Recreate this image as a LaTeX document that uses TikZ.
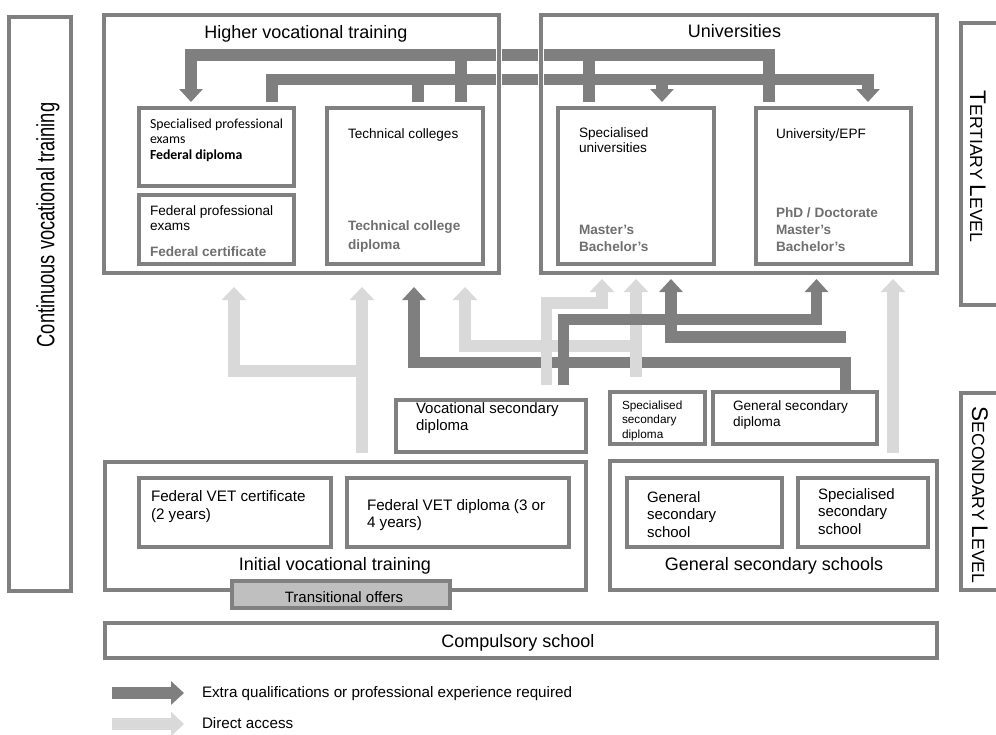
\documentclass[tikz,border=0pt]{standalone}
\usepackage{fontspec}
\setmainfont{Liberation Sans}
\newfontfamily\calfont{Carlito}
\newfontfamily\narrowfont[FakeStretch=0.73]{Liberation Sans}
\usetikzlibrary{arrows.meta, positioning, calc, fit, backgrounds}
\definecolor{cBOX}{HTML}{808080}
\definecolor{cDARK}{HTML}{7F7F7F}
\definecolor{cLIGHT}{HTML}{D9D9D9}
\definecolor{cBOLD}{HTML}{6F6F6F}
\definecolor{cFILL}{HTML}{BFBFBF}
\newcommand\lvlbig{\fontsize{11.3}{13}\selectfont}
\newcommand\lvlsmall{\fontsize{8.8}{10}\selectfont}
\tikzset{
  box/.style={draw=cBOX, line width=1.6pt, inner sep=0pt, outer sep=0pt},
  outerbox/.style={box, preaction={draw=white, line width=3.2pt}},
  txt/.style={inner sep=0pt, outer sep=0pt, anchor=base west, align=left},
  ttl/.style={txt, anchor=base, font=\fontsize{9}{11}\selectfont},
  small/.style={font=\fontsize{6.8}{7.5}\selectfont},
  boldgray/.style={text=cBOLD, font=\bfseries\fontsize{6.8}{8.3}\selectfont},
  mid/.style={font=\fontsize{7.5}{8.75}\selectfont},
  darkline/.style={draw=cDARK, line width=5.8pt},
  lightline/.style={draw=cLIGHT, line width=5.6pt},
  darkarrow/.style={darkline, -{Triangle[width=11.5pt,length=6.5pt]}},
  lightarrow/.style={lightline, -{Triangle[width=12pt,length=6.5pt]}}
}
\begin{document}
\begin{tikzpicture}[x=0.5pt, y=-0.5pt]
  \useasboundingbox (0,0) rectangle (996,734);

  % Side boxes (multi-line labels sit on their last baseline)
  \node[box, fit={(9,17) (71,591)}] (cvt) {};
  \node[txt, anchor=center, rotate=90, font=\narrowfont\fontsize{12.5}{15}\selectfont] (cvtl) at ([shift={(8,-79)}]cvt.center) {Continuous vocational training};
  \node[box, fit={(961,23) (1010,305)}] (ter) {};
  \node[txt, anchor=center, rotate=-90] (terl) at ([shift={(17,143.5)}]ter.north west) {\lvlbig T\lvlsmall ERTIARY \lvlbig L\lvlsmall EVEL};
  \node[box, fit={(961,393) (1010,590)}] (sec) {};
  \node[txt, anchor=center, rotate=-90] (secl) at ([shift={(19,102)}]sec.north west) {\lvlbig S\lvlsmall ECONDARY \lvlbig L\lvlsmall EVEL};

  % Higher vocational training
  \node[outerbox, fit={(104,15) (499,273)}] (hvt) {};
  \node[ttl] (hvtl) at ([shift={(4.5,23)}]hvt.north) {Higher vocational training};
  \node[box, fit={(139,108) (294,186)}] (spe) {};
  \node[txt, font=\calfont\fontsize{6.9}{7.6}\selectfont] (spel) at ([shift={(11,51)}]spe.north west) {Specialised professional\\exams\\\textbf{Federal diploma}};
  \node[box, fit={(139,195) (294,264)}] (fpe) {};
  \node[txt, small] (fpel) at ([shift={(11,35)}]fpe.north west) {Federal professional\\exams};
  \node[txt, boldgray] (fpeb) at ([shift={(11,61)}]fpe.north west) {Federal certificate};
  \node[box, fit={(327,108) (483,264)}] (tc) {};
  \node[txt, small] (tcl) at ([shift={(21,30)}]tc.north west) {Technical colleges};
  \node[txt, boldgray, font=\bfseries\fontsize{6.8}{9.3}\selectfont] (tcb) at ([shift={(21,141)}]tc.north west) {Technical college\\diploma};

  % Universities
  \node[outerbox, fit={(541,15) (937,273)}] (uni) {};
  \node[ttl] (unil) at ([shift={(-4.5,22)}]uni.north) {Universities};
  \node[box, fit={(558,108) (714,264)}] (su) {};
  \node[txt, small] (sul) at ([shift={(21,44.5)}]su.north west) {Specialised\\universities};
  \node[txt, boldgray] (sub) at ([shift={(21,143)}]su.north west) {Master’s\\Bachelor’s};
  \node[box, fit={(756,108) (911,264)}] (uepf) {};
  \node[txt, small] (uepfl) at ([shift={(20,30)}]uepf.north west) {University/EPF};
  \node[txt, boldgray] (uepfb) at ([shift={(20,143)}]uepf.north west) {PhD / Doctorate\\Master’s\\Bachelor’s};

  % Secondary diplomas
  \node[box, fit={(396,400) (586,452)}] (vsd) {};
  \node[txt, font=\fontsize{7.5}{8.5}\selectfont] (vsdl) at ([shift={(20,30)}]vsd.north west) {Vocational secondary\\diploma};
  \node[box, fit={(610,392) (705,444)}] (ssd) {};
  \node[txt, font=\fontsize{5.9}{7.25}\selectfont] (ssdl) at ([shift={(12,46)}]ssd.north west) {Specialised\\secondary\\diploma};
  \node[box, fit={(713,392) (877,444)}] (gsd) {};
  \node[txt, font=\fontsize{6.8}{8}\selectfont] (gsdl) at ([shift={(20,34)}]gsd.north west) {General secondary\\diploma};

  % Initial vocational training
  \node[box, fit={(105,462) (586,590)}] (ivt) {};
  \node[ttl] (ivtl) at ([shift={(-10.5,-20)}]ivt.south) {Initial vocational training};
  \node[box, fit={(139,478) (331,547)}] (vcert) {};
  \node[txt, font=\fontsize{7.6}{9}\selectfont] (vcertl) at ([shift={(12,41)}]vcert.north west) {Federal VET certificate\\(2 years)};
  \node[box, fit={(347,478) (569,547)}] (vdip) {};
  \node[txt, font=\fontsize{7.6}{8.5}\selectfont] (vdipl) at ([shift={(20,49)}]vdip.north west) {Federal VET diploma (3 or\\4 years)};
  \node[box, fill=cFILL, fit={(232,581) (450,608)}] (trans) {};
  \node[txt, anchor=base, font=\fontsize{7.5}{9}\selectfont] (transl) at ([shift={(3,-6)}]trans.south) {Transitional offers};

  % General secondary schools
  \node[box, fit={(610,461) (937,590)}] (gss) {};
  \node[ttl] (gssl) at ([shift={(0.5,-20)}]gss.south) {General secondary schools};
  \node[box, fit={(627,478) (782,547)}] (gsch) {};
  \node[txt, mid] (gschl) at ([shift={(20,59)}]gsch.north west) {General\\secondary\\school};
  \node[box, fit={(798,478) (928,547)}] (ssch) {};
  \node[txt, mid] (sschl) at ([shift={(20,56)}]ssch.north west) {Specialised\\secondary\\school};

  % Compulsory school
  \node[box, fit={(105,623) (937,658)}] (comp) {};
  \node[ttl] (compl) at ([shift={(-3,-11)}]comp.south) {Compulsory school};

  % Legend
  \coordinate (lg1) at (112,693);
  \coordinate (lg2) at (112,724);
  \node[txt, font=\fontsize{7.6}{9}\selectfont] (lgt1) at (202,697) {Extra qualifications or professional experience required};
  \node[txt, font=\fontsize{7.6}{9}\selectfont] (lgt2) at (202,728) {Direct access};

  \coordinate (ljoin) at (362,371);
  \coordinate (ljoin2) at (636,346);
  \coordinate (djoin) at (845.5,337);

  \begin{pgfonlayer}{background}
    % Arrows between tertiary boxes
    \draw[darkarrow] ([shift={(13,-6)}]uepf.north west) |- (191,55) -- ([shift={(52,-6)}]spe.north west);
    \draw[darkline] ([shift={(134,-6)}]tc.north west) -- ++(0,-47);
    \draw[darkline] ([shift={(31,-6)}]su.north west) -- ++(0,-47);
    \draw[darkarrow] ([shift={(133,-6)}]spe.north west) |- (868,79.5) -- ([shift={(112,-6)}]uepf.north west);
    \draw[darkline] ([shift={(91,-6)}]tc.north west) -- ++(0,-22.5);
    \draw[darkarrow] (662,79.5) -- ([shift={(104,-6)}]su.north west);

    % Arrows from secondary level
    \draw[lightarrow] ([shift={(257,-9)}]ivt.north west) -- ([shift={(258,14)}]hvt.south west);
    \draw[lightarrow] (ljoin) -| ([shift={(130,14)}]hvt.south west);
    \draw[darkarrow] ([shift={(132.5,0)}]gsd.north west) |- (414,362.5) -- ([shift={(310,14)}]hvt.south west);
    \draw[lightarrow] ([shift={(26,-15)}]ssd.north west) -- ([shift={(95,6)}]uni.south west);
    \draw[lightarrow] (ljoin2) -| ([shift={(361,14)}]hvt.south west);
    \draw[lightarrow] ([shift={(150.5,-15)}]vsd.north west) |- (602,303) -- ([shift={(61,6)}]uni.south west);
    \draw[lightarrow] ([shift={(283,-8)}]gss.north west) -- ([shift={(352,6)}]uni.south west);
    \draw[darkarrow] ([shift={(167.5,-15)}]vsd.north west) |- (816.5,319.5) -- ([shift={(275.5,6)}]uni.south west);
    \draw[darkarrow] (djoin) -| ([shift={(130,6)}]uni.south west);

    % Legend arrows
    \draw[darkarrow] (lg1) -- ++(72,0);
    \draw[lightarrow] (lg2) -- ++(72,0);
  \end{pgfonlayer}
\end{tikzpicture}
\end{document}
